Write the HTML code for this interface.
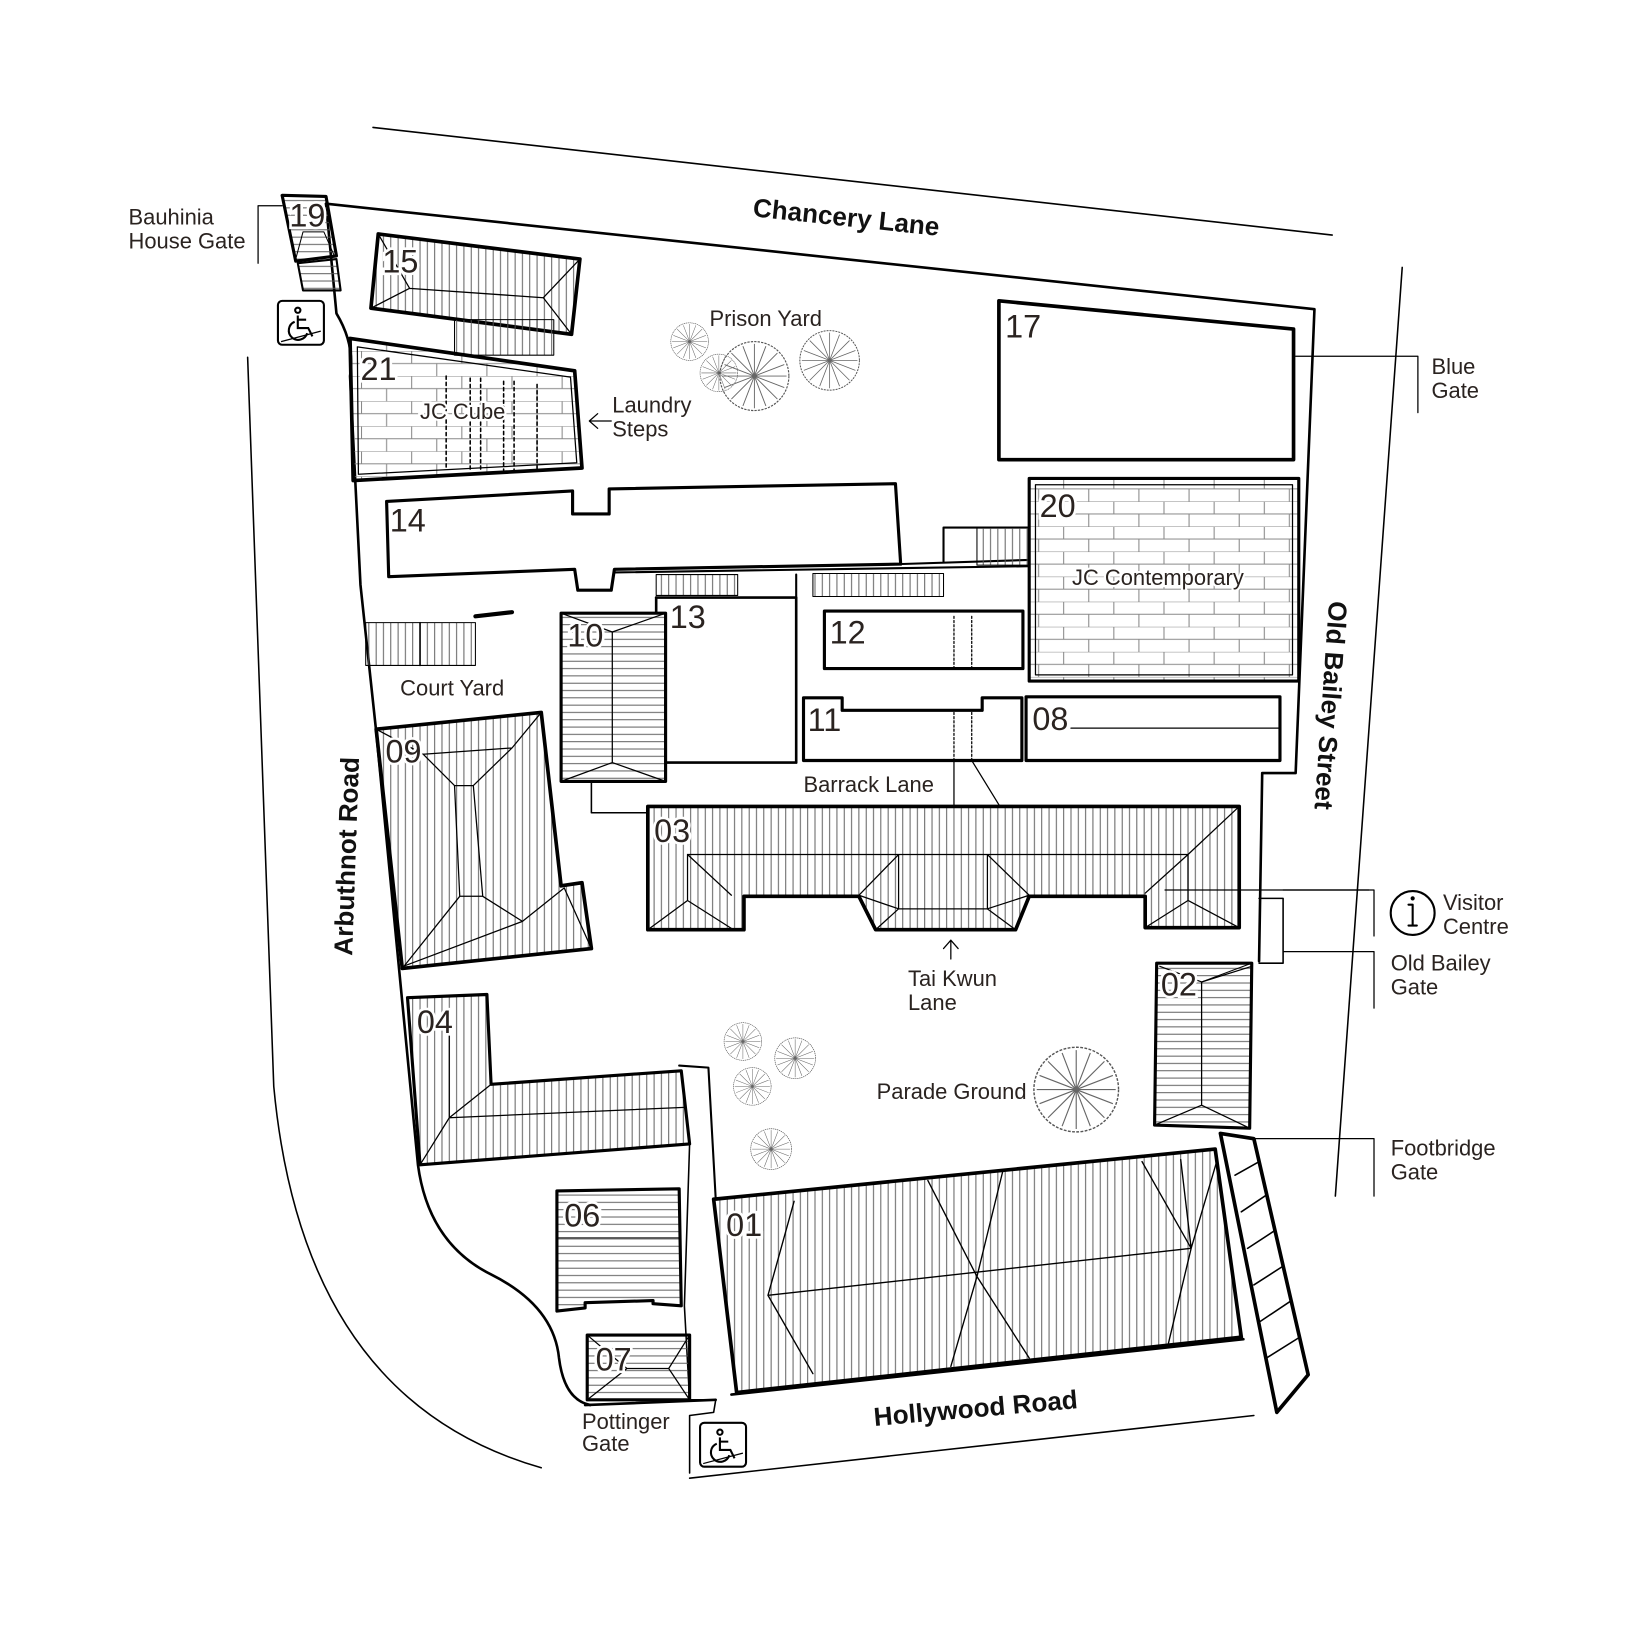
<!DOCTYPE html>
<html><head><meta charset="utf-8"><style>
html,body{margin:0;padding:0;background:#fff}
svg{display:block}
text{font-family:"Liberation Sans",sans-serif;fill:#2a2320}
.n{font-size:31px;paint-order:stroke;stroke:#fff;stroke-width:5px}
.l{font-size:21px;paint-order:stroke;stroke:#fff;stroke-width:4px}
.b{font-size:25px;font-weight:bold;fill:#111}
</style></head><body>
<svg width="1630" height="1638" viewBox="0 0 1560 1568" preserveAspectRatio="none" xmlns="http://www.w3.org/2000/svg">
<defs>
<pattern id="hv" width="7" height="10" patternUnits="userSpaceOnUse"><line x1="3" y1="0" x2="3" y2="10" stroke="#555" stroke-width="0.9"/></pattern>
<pattern id="hh" width="10" height="7" patternUnits="userSpaceOnUse"><line x1="0" y1="3" x2="10" y2="3" stroke="#555" stroke-width="0.9"/></pattern>
<pattern id="br" width="48" height="24" patternUnits="userSpaceOnUse"><path d="M0 0H48M0 12H48M10 0V12M34 12V24" stroke="#888" stroke-width="1" fill="none"/></pattern>
<g id="tree"><circle cx="0" cy="0" r="30" fill="none" stroke="#555" stroke-width="1" stroke-dasharray="2 1"/>
<path d="M0 0L0-28M0 0L20-20M0 0L28 0M0 0L20 20M0 0L0 28M0 0L-20 20M0 0L-28 0M0 0L-20-20M0 0L10-26M0 0L26 10M0 0L-10 26M0 0L-26-10M0 0L26-10M0 0L10 26M0 0L-26 10M0 0L-10-26" stroke="#666" stroke-width="0.8"/></g>
<g id="wc" fill="none" stroke="#000" stroke-width="2"><rect x="0" y="0" width="44" height="42" rx="4"/><circle cx="19" cy="9" r="2.5"/><path d="M19 14 V26 H29 L33 34 M19 18 H27"/><path d="M16 20 A9 9 0 1 0 28 31"/><path d="M3 39 L41 29" stroke-width="1.2"/></g>
</defs>
<g fill="none" stroke="#000" stroke-linecap="round" stroke-linejoin="round">
<line x1="357" y1="122" x2="1275" y2="225" stroke-width="1.5"/>
<line x1="1342" y1="256" x2="1278" y2="1145" stroke-width="1.5"/>
<line x1="660" y1="1415" x2="1200" y2="1355" stroke-width="1.5"/>
<path d="M237 342 L262 1040 Q290 1340 518 1405" stroke-width="1.5"/>
<path d="M312 195 L1258 296 L1240 740 L1208 740 L1205 920" stroke-width="2.5"/>
<path d="M312 195 L322 300 Q340 330 335 360 L345 560 L360 700 L400 1115 Q410 1190 470 1220 Q530 1250 535 1300 Q540 1340 565 1345" stroke-width="2.5"/>
<path d="M560 1345 L685 1340" stroke-width="2.5"/>
<path d="M700 1335 L1190 1282" stroke-width="2.5"/>
<path d="M650 1020 L678 1022 L685 1148" stroke-width="2"/>
<path d="M660 1095 L655 1250 L660 1340 L685 1340 L683 1352 L660 1355 L660 1410" stroke-width="1.5"/>
<path d="M270 187 L312 188 L322 245 L283 250 Z" fill="url(#hh)" stroke-width="3"/>
<path d="M285 252 L322 248 L326 278 L290 278 Z" fill="url(#hh)" stroke-width="2"/>
<path d="M290 222 L310 222 L320 245 M290 222 L283 248" stroke-width="1"/>
<path d="M362 224 L555 248 L547 320 L355 295 Z" fill="url(#hv)" stroke-width="3.5"/>
<path d="M362 224 L392 276 L520 285 L555 248 M392 276 L355 295 M520 285 L547 320" stroke-width="1.2"/>
<rect x="435" y="306" width="95" height="34" fill="url(#hv)" stroke-width="1"/>
<path d="M335 324 L550 355 L557 448 L338 460 Z" fill="url(#br)" stroke-width="3.5"/>
<path d="M342 332 L546 361 L552 443 L343 454 Z" stroke-width="1.2"/>
<path d="M427 360V450M450 362V450M460 362V450M482 365V450M492 365V450M514 368V450" stroke-width="1.5" stroke-dasharray="3 3"/>
<path d="M956 288 L1238 315 L1238 440 L956 440 Z" stroke-width="3.5" fill="#fff"/>
<path d="M370 480 L548 470 L548 492 L583 492 L583 468 L857 463 L862 540 L588 545 L585 565 L553 565 L550 545 L372 552 Z" stroke-width="3" fill="#fff"/>
<path d="M860 540 L985 536 M588 548 L985 542 M903 505 L985 505 M903 505 V538" stroke-width="2"/>
<rect x="935" y="505" width="50" height="36" fill="url(#hv)" stroke-width="1"/>
<rect x="628" y="550" width="78" height="20" fill="url(#hv)" stroke-width="1"/>
<rect x="778" y="549" width="125" height="22" fill="url(#hv)" stroke-width="1"/>
<path d="M762 550 V730" stroke-width="2"/>
<rect x="985" y="458" width="258" height="194" fill="url(#br)" stroke-width="3"/>
<rect x="991" y="464" width="246" height="182" stroke-width="1.2"/>
<path d="M628 572 L762 572 L762 730 L637 730" stroke-width="2.5"/>
<path d="M628 572 V587" stroke-width="2.5"/>
<path d="M537 587 L637 587 L637 748 L537 748 Z" fill="url(#hh)" stroke-width="3"/>
<path d="M586 605 V730 M586 605 L537 587 M586 605 L637 587 M586 730 L537 748 M586 730 L637 748" stroke-width="1.2"/>
<path d="M566 748 V778 L620 778" stroke-width="1.5"/>
<rect x="789" y="585" width="190" height="55" stroke-width="3"/>
<path d="M913 590V640M930 590V640" stroke-width="1.2" stroke-dasharray="2 2"/>
<path d="M769 668 L806 668 L806 680 L940 680 L940 668 L978 668 L978 728 L769 728 Z" stroke-width="3"/>
<path d="M913 682V728M930 682V728" stroke-width="1.2" stroke-dasharray="2 2"/>
<path d="M913 728 V772 M930 728 L957 772" stroke-width="1.2"/>
<rect x="982" y="667" width="243" height="61" stroke-width="3"/>
<path d="M1025 697 H1225" stroke-width="1.2"/>
<rect x="350" y="596" width="105" height="41" fill="url(#hv)" stroke-width="1"/>
<line x1="402" y1="596" x2="402" y2="637" stroke-width="1.5"/>
<line x1="455" y1="590" x2="490" y2="586" stroke-width="4"/>
<path d="M360 698 L518 682 L537 848 L557 845 L566 908 L385 927 Z" fill="url(#hv)" stroke-width="3.5"/>
<path d="M405 722 L490 716 M405 722 L360 698 M490 716 L518 682 M435 752 L440 858 M453 752 L462 858 M440 858 L385 927 M462 858 L500 882 M440 858 L462 858 M435 752 L453 752 L490 716 M435 752 L405 722 M500 882 L540 850 M540 850 L566 908 M500 882 L386 925" stroke-width="1.2"/>
<path d="M620 772 L1186 772 L1186 888 L1096 888 L1096 858 L985 858 L972 890 L838 890 L822 858 L712 858 L712 890 L620 890 Z" fill="url(#hv)" stroke-width="3.5"/>
<path d="M658 818 H1137 M658 818 L700 857 M658 818 V862 M658 862 L620 890 M658 862 L702 890 M1137 818 L1186 772 M1137 818 V862 L1096 888 M1137 862 L1186 888 M1137 818 L1096 855 M822 857 L860 818 V870 L838 890 M860 870 L822 857 M945 818 L985 857 M945 818 V870 L972 890 M945 870 L985 857 M860 870 H945" stroke-width="1.2"/>
<line x1="1115" y1="852" x2="1310" y2="852" stroke-width="1.2"/>
<path d="M1205 860 L1228 860 L1228 922 L1205 922" stroke-width="1.5"/>
<path d="M1107 922 L1198 922 L1196 1080 L1105 1077 Z" fill="url(#hh)" stroke-width="3"/>
<path d="M1150 940 V1058 M1150 940 L1198 925 M1150 940 L1110 925 M1150 1058 L1105 1077 M1150 1058 L1196 1080" stroke-width="1.2"/>
<path d="M1168 1085 L1200 1090 L1252 1316 L1222 1352 Z" stroke-width="3.5"/>
<path d="M1182 1125 L1205 1112 M1188 1160 L1212 1144 M1194 1195 L1220 1178 M1200 1230 L1228 1212 M1206 1265 L1236 1245 M1212 1300 L1244 1280" stroke-width="1.5"/>
<path d="M390 955 L466 952 L470 1038 L652 1025 L660 1095 L402 1115 Z" fill="url(#hv)" stroke-width="3"/>
<path d="M430 975 V1070 M430 1070 L402 1115 M430 1070 L470 1038 M430 1070 L655 1060" stroke-width="1.2"/>
<path d="M533 1140 L650 1138 L652 1250 L625 1248 L625 1245 L560 1247 L560 1252 L533 1255 Z" fill="url(#hh)" stroke-width="3"/>
<path d="M533 1185 H650" stroke-width="1"/>
<rect x="562" y="1278" width="98" height="62" fill="url(#hh)" stroke-width="3"/>
<path d="M562 1278 L600 1310 L562 1340 M660 1278 L640 1310 L660 1340 M600 1310 H640" stroke-width="1.2"/>
<path d="M683 1148 L1163 1100 L1188 1280 L705 1333 Z" fill="url(#hv)" stroke-width="3.5"/>
<path d="M735 1240 L1140 1195 M735 1240 L760 1150 M735 1240 L778 1315 M888 1130 L935 1222 L960 1120 M935 1222 L910 1308 M935 1222 L985 1300 M1140 1195 L1093 1112 M1140 1195 L1130 1110 M1140 1195 L1118 1287 M1140 1195 L1165 1110" stroke-width="1.3"/>
<path d="M247 197 H270 M247 197 V252" stroke-width="1.2"/>
<path d="M1240 341 H1357 V395" stroke-width="1.2"/>
<path d="M1228 852 L1315 852 V896" stroke-width="1.2"/>
<path d="M1228 911 H1315 V965" stroke-width="1.2"/>
<path d="M1196 1090 H1315 V1145" stroke-width="1.2"/>
<path d="M1198 922 L1150 940" stroke-width="1"/>
<path d="M585 403 H565 M572 396 L564 403 L572 410" stroke-width="1.2"/>
<path d="M910 918 V900 M903 908 L910 900 L917 908" stroke-width="1.2"/>
<circle cx="1352" cy="874" r="21" stroke-width="2"/>
<path d="M1352 866 V886 M1348 866 H1352 M1348 886 H1356" stroke-width="2"/>
<circle cx="1352" cy="860" r="1.5" fill="#000"/>
</g>
<use href="#wc" x="266" y="288"/>
<use href="#wc" x="670" y="1362"/>
<g>
<use href="#tree" transform="translate(660,327) scale(0.6)"/>
<use href="#tree" transform="translate(688,357) scale(0.6)"/>
<use href="#tree" transform="translate(722,360) scale(1.1)"/>
<use href="#tree" transform="translate(794,345) scale(0.95)"/>
<use href="#tree" transform="translate(711,997) scale(0.6)"/>
<use href="#tree" transform="translate(761,1013) scale(0.65)"/>
<use href="#tree" transform="translate(720,1040) scale(0.6)"/>
<use href="#tree" transform="translate(738,1100) scale(0.65)"/>
<use href="#tree" transform="translate(1030,1043) scale(1.35)"/>
</g>
<text class="n" x="277" y="217">19</text>
<text class="n" x="366" y="261">15</text>
<text class="n" x="345" y="364">21</text>
<text class="n" x="962" y="323">17</text>
<text class="n" x="373" y="509">14</text>
<text class="n" x="995" y="495">20</text>
<text class="n" x="641" y="601">13</text>
<text class="n" x="543" y="619">10</text>
<text class="n" x="794" y="616">12</text>
<text class="n" x="773" y="700">11</text>
<text class="n" x="988" y="699">08</text>
<text class="n" x="369" y="730">09</text>
<text class="n" x="626" y="806">03</text>
<text class="n" x="1111" y="953">02</text>
<text class="n" x="399" y="989">04</text>
<text class="n" x="540" y="1174">06</text>
<text class="n" x="570" y="1312">07</text>
<text class="n" x="695" y="1183">01</text>
<text class="l" x="123" y="215">Bauhinia</text>
<text class="l" x="123" y="238">House Gate</text>
<text class="l" x="679" y="312">Prison Yard</text>
<text class="l" x="402" y="401">JC Cube</text>
<text class="l" x="586" y="395">Laundry</text>
<text class="l" x="586" y="418">Steps</text>
<text class="l" x="1026" y="560">JC Contemporary</text>
<text class="l" x="383" y="666">Court Yard</text>
<text class="l" x="769" y="758">Barrack Lane</text>
<text class="l" x="869" y="944">Tai Kwun</text>
<text class="l" x="869" y="967">Lane</text>
<text class="l" x="839" y="1052">Parade Ground</text>
<text class="l" x="1370" y="358">Blue</text>
<text class="l" x="1370" y="381">Gate</text>
<text class="l" x="1381" y="871">Visitor</text>
<text class="l" x="1381" y="894">Centre</text>
<text class="l" x="1331" y="929">Old Bailey</text>
<text class="l" x="1331" y="952">Gate</text>
<text class="l" x="1331" y="1106">Footbridge</text>
<text class="l" x="1331" y="1129">Gate</text>
<text class="l" x="557" y="1368">Pottinger</text>
<text class="l" x="557" y="1389">Gate</text>
<text class="b" transform="translate(720,207) rotate(6)">Chancery Lane</text>
<text class="b" transform="translate(837,1365) rotate(-5)">Hollywood Road</text>
<text class="b" transform="translate(337,915) rotate(-88)">Arbuthnot Road</text>
<text class="b" transform="translate(1272,575) rotate(94)">Old Bailey Street</text>
</svg>
</body></html>
